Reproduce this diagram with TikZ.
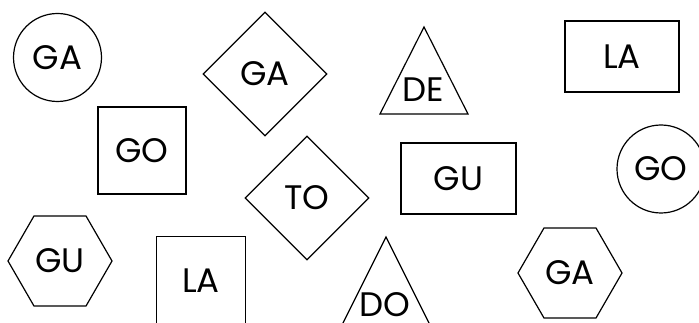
\documentclass[tikz,border=0pt]{standalone}
\usepackage{fontspec}
\setmainfont{Poppins}
\usetikzlibrary{shapes.geometric}

\begin{document}
\begin{tikzpicture}[x=1pt, y=-1pt, line width=1.2pt,
  syl/.style={font=\fontsize{34}{34}\selectfont, inner sep=0pt},
  rnd/.style={syl, draw, circle, minimum size=88pt},
  rbox/.style={syl, draw, rectangle},
  dia/.style={syl, draw, diamond, aspect=1, minimum size=124pt},
  hexa/.style={syl, draw, regular polygon, regular polygon sides=6, minimum size=104pt}]
\useasboundingbox (0,0) rectangle (699,323);
\clip (0,0) rectangle (699,323);
% top row
\node[rnd] (ga1) at (57.5,57.5) {GA};
\node[dia] (ga2) at (265,74) {GA};
\draw (424,27) -- (468,114) -- (380,114) -- cycle;
\node[syl] (de) at (423,90) {DE};
\node[rbox, minimum width=114pt, minimum height=71pt] (la1) at (622,56.5) {LA};
% middle row
\node[rbox, minimum width=88pt, minimum height=87pt] (go1) at (142,150.5) {GO};
\node[dia] (to) at (307,198) {TO};
\node[rbox, minimum width=115pt, minimum height=71pt] (gu1) at (458.5,178.5) {GU};
\node[rnd] (go2) at (661,169) {GO};
% bottom row
\node[hexa] (gu2) at (60,261) {GU};
\node[rbox, minimum size=89pt] (la2) at (201,281) {LA};
\draw (386,237) -- (430,325) -- (342,325) -- cycle;
\node[syl] (do) at (385,305) {DO};
\node[hexa] (ga3) at (570,273) {GA};
\end{tikzpicture}
\end{document}
